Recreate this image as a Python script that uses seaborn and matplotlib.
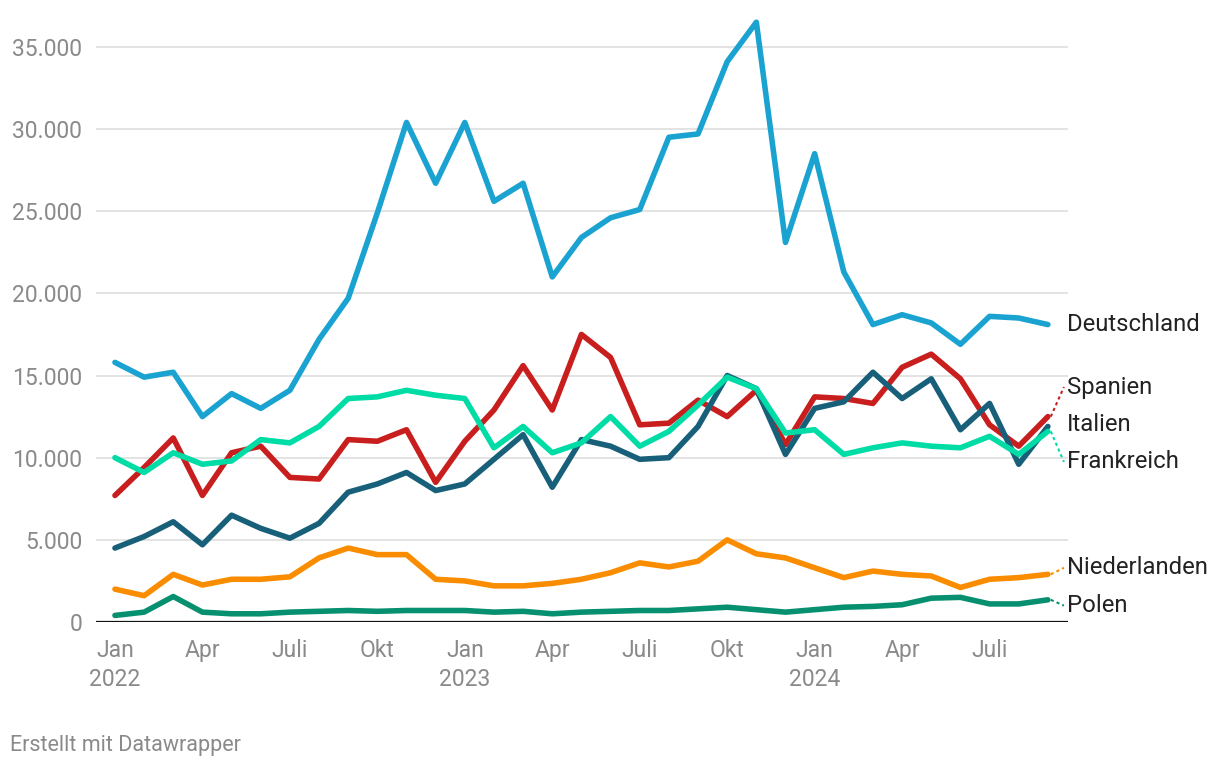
import seaborn as sns
import matplotlib.pyplot as plt
import pandas as pd

# monthly values, Jan 2022 - Sep 2024
deutschland = [15800, 14900, 15200, 12500, 13900, 13000, 14100, 17200, 19700, 24900, 30400, 26700,
               30400, 25600, 26700, 21000, 23400, 24600, 25100, 29500, 29700, 34100, 36500, 23100,
               28500, 21300, 18100, 18700, 18200, 16900, 18600, 18500, 18100]
spanien = [7700, 9400, 11200, 7700, 10300, 10700, 8800, 8700, 11100, 11000, 11700, 8500,
           11000, 12900, 15600, 12900, 17500, 16100, 12000, 12100, 13500, 12500, 14100, 10800,
           13700, 13600, 13300, 15500, 16300, 14800, 12000, 10700, 12500]
italien = [4500, 5200, 6100, 4700, 6500, 5700, 5100, 6000, 7900, 8400, 9100, 8000,
           8400, 9900, 11400, 8200, 11100, 10700, 9900, 10000, 11900, 15000, 14200, 10200,
           13000, 13400, 15200, 13600, 14800, 11700, 13300, 9600, 11900]
frankreich = [10000, 9100, 10300, 9600, 9800, 11100, 10900, 11900, 13600, 13700, 14100, 13800,
              13600, 10600, 11900, 10300, 10900, 12500, 10700, 11600, 13200, 14900, 14200, 11500,
              11700, 10200, 10600, 10900, 10700, 10600, 11300, 10200, 11600]
niederlande = [2000, 1600, 2900, 2250, 2600, 2600, 2750, 3900, 4500, 4100, 4100, 2600,
               2500, 2200, 2200, 2350, 2600, 3000, 3600, 3350, 3700, 5000, 4150, 3900,
               3300, 2700, 3100, 2900, 2800, 2100, 2600, 2700, 2900]
polen = [400, 600, 1550, 600, 500, 500, 600, 650, 700, 650, 700, 700,
         700, 600, 650, 500, 600, 650, 700, 700, 800, 900, 750, 600,
         750, 900, 950, 1050, 1450, 1500, 1100, 1100, 1350]

countries = ['Deutschland', 'Spanien', 'Italien', 'Frankreich', 'Niederlanden', 'Polen']
series = [deutschland, spanien, italien, frankreich, niederlande, polen]
colors = ['#1aa3d0', '#c81e1e', '#18607a', '#00dca6', '#fa8c00', '#07906f']
label_y = [18100, 14300, 12000, 9750, 3300, 1000]

tick_pos = [0, 3, 6, 9, 12, 15, 18, 21, 24, 27, 30]
tick_labels = ['Jan\n2022', 'Apr', 'Juli', 'Okt', 'Jan\n2023', 'Apr', 'Juli', 'Okt',
               'Jan\n2024', 'Apr', 'Juli']
y_ticks = [0, 5000, 10000, 15000, 20000, 25000, 30000, 35000]
y_labels = ['0', '5.000', '10.000', '15.000', '20.000', '25.000', '30.000', '35.000']

rows = []
for name, vals in zip(countries, series):
    for i, v in enumerate(vals):
        rows.append({'month': i, 'value': v, 'land': name})
df = pd.DataFrame(rows)

sns.set_style('white')
plt.rcParams['font.family'] = ['Roboto', 'DejaVu Sans']

fig = plt.figure(figsize=(12.2, 7.68), dpi=100)
ax = fig.add_axes([96 / 1220, 146 / 768, 972 / 1220, 608 / 768])

for y in y_ticks[1:]:
    ax.axhline(y, color='#e3e3e3', lw=1.4, zorder=0)

sns.lineplot(data=df, x='month', y='value', hue='land', hue_order=countries,
             palette=colors, lw=4, legend=False, ax=ax, zorder=3)
ax.axhline(0, color='#111111', lw=1.6, zorder=4)

ax.set_xlim(-0.65, 32.69)
ax.set_ylim(0, 37000)
ax.set_xticks(tick_pos)
ax.set_xticklabels(tick_labels, linespacing=1.35)
ax.set_yticks(y_ticks)
ax.set_yticklabels(y_labels)
ax.tick_params(axis='both', length=0, labelsize=16.5, labelcolor='#8a8a8a')
ax.tick_params(axis='x', pad=12)
ax.tick_params(axis='y', pad=10)
ax.set_xlabel('')
ax.set_ylabel('')
for s in ax.spines.values():
    s.set_visible(False)

last = len(deutschland) - 1
for name, vals, c, ly in zip(countries, series, colors, label_y):
    if abs(vals[-1] - ly) > 300:
        ax.plot([last + 0.1, last + 0.55], [vals[-1], ly], color=c, lw=1.5,
                ls=(0, (1.5, 1.5)), clip_on=False)
    ax.text(last + 0.65, ly, name, fontsize=17.2, color='#222222', va='center',
            ha='left', clip_on=False)

fig.text(10 / 1220, 1 - 745 / 768, 'Erstellt mit Datawrapper', fontsize=15.5,
         color='#8a8a8a', va='center', ha='left')

fig.savefig('out.png', dpi=100)
